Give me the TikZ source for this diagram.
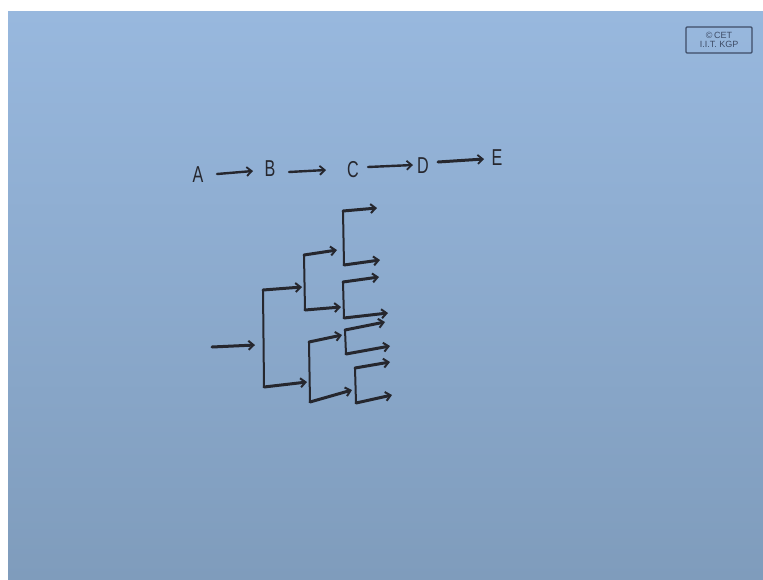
\documentclass[tikz,border=0pt]{standalone}
\usepackage{fontspec}
\setmainfont{Liberation Sans}
\usetikzlibrary{arrows.meta}
\definecolor{bgtop}{HTML}{98B8DE}
\definecolor{bgbot}{HTML}{7F9CBC}
\definecolor{ink}{HTML}{26272E}
\definecolor{wm}{HTML}{3E4C66}
\tikzset{
  hand/.style={draw=ink, line width=3pt, line cap=round, line join=round, -{Straight Barb[length=5pt,width=9pt,line width=2pt]}},
  stem/.style={draw=ink, line width=2pt, line cap=round},
  letter/.style={font=\fontsize{23}{23}\selectfont, text=ink, inner sep=1pt},
  tarrow/.style={draw=ink, line width=2.4pt, line cap=round, -{Straight Barb[length=5pt,width=9pt,line width=1.8pt]}}
}
\begin{document}
\begin{tikzpicture}[x=1pt,y=-1pt]
\useasboundingbox (0,0) rectangle (763,579);
\fill[white] (0,0) rectangle (763,579);
\shade[top color=bgtop, bottom color=bgbot] (8,11) rectangle (763,579);
% watermark
\node[draw=wm, line width=1.2pt, rounded corners=1pt, minimum width=66pt, minimum height=26pt, inner sep=0pt, align=center, text=wm, font=\fontsize{9}{9.5}\selectfont] (wmk) at (719,40) {\textcopyright\,CET\\I.I.T. KGP};
% top row
\node[letter] (A) at (198,175) {\scalebox{0.7}[1]{A}};
\node[letter] (B) at (270,169) {\scalebox{0.7}[1]{B}};
\node[letter] (C) at (353,170) {\scalebox{0.7}[1]{C}};
\node[letter] (D) at (423,166) {\scalebox{0.7}[1]{D}};
\node[letter] (E) at (497,158) {\scalebox{0.7}[1]{E}};
\coordinate (ab0) at (217,174); \coordinate (ab1) at (253,171);
\coordinate (bc0) at (289,172); \coordinate (bc1) at (326,170);
\coordinate (cd0) at (368,167); \coordinate (cd1) at (413,165);
\coordinate (de0) at (438,162); \coordinate (de1) at (484,159);
\draw[tarrow] (ab0) -- (ab1);
\draw[tarrow] (bc0) -- (bc1);
\draw[tarrow] (cd0) -- (cd1);
\draw[tarrow, line width=3pt] (de0) -- (de1);
% tree coordinates
\coordinate (in0) at (212,347); \coordinate (in1) at (255,345);
\coordinate (r1) at (263,290);  \coordinate (r2) at (264,387);
\coordinate (ra) at (302,287);  \coordinate (rb) at (307,382);
\coordinate (u1) at (304,255);  \coordinate (u2) at (305,310);
\coordinate (ua) at (337,250);  \coordinate (ub) at (341,307);
\coordinate (l1) at (309,342);  \coordinate (l2) at (310,402);
\coordinate (la) at (342,335);  \coordinate (lb) at (352,390);
\coordinate (g1t) at (343,211); \coordinate (g1b) at (344,265);
\coordinate (g1a) at (377,208); \coordinate (g1c) at (380,260);
\coordinate (g2t) at (343,282); \coordinate (g2b) at (344,318);
\coordinate (g2a) at (379,277); \coordinate (g2c) at (388,313);
\coordinate (g3t) at (345,330); \coordinate (g3b) at (346,354);
\coordinate (g3a) at (385,322); \coordinate (g3c) at (390,346);
\coordinate (g4t) at (355,368); \coordinate (g4b) at (356,403);
\coordinate (g4a) at (390,362); \coordinate (g4c) at (392,395);
% input
\draw[hand] (in0) -- (in1);
% stems
\foreach \t/\b in {r1/r2,u1/u2,l1/l2,g1t/g1b,g2t/g2b,g3t/g3b,g4t/g4b}
  \draw[stem] (\t) -- (\b);
% branches
\foreach \s/\e in {r1/ra,r2/rb,u1/ua,u2/ub,l1/la,l2/lb,g1t/g1a,g1b/g1c,g2t/g2a,g2b/g2c,g3t/g3a,g3b/g3c,g4t/g4a,g4b/g4c}
  \draw[hand] (\s) -- (\e);
\end{tikzpicture}
\end{document}
